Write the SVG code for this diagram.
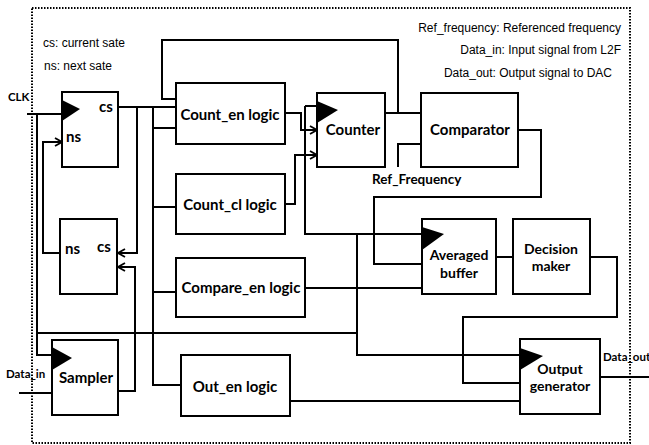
<svg xmlns="http://www.w3.org/2000/svg" width="649" height="445" viewBox="0 0 649 445">
<defs>
<style>
.box{fill:#fff;stroke:#000;stroke-width:2}
.w{fill:none;stroke:#000;stroke-width:2}
.ck{fill:#000;stroke:none}
.lbl{font-family:Lato,"Liberation Sans",sans-serif;font-weight:bold;font-size:15px;text-anchor:middle;fill:#000}
.lbl2{font-size:14px}
.pin{font-family:Lato,"Liberation Sans",sans-serif;font-weight:bold;font-size:15px;fill:#000}
.sig{font-family:Lato,"Liberation Sans",sans-serif;font-weight:bold;font-size:11.5px;fill:#000}
.note{font-family:"Liberation Sans",Arial,sans-serif;font-size:12px;fill:#000}
</style>
<marker id="ar" viewBox="0 0 10 10" refX="9" refY="5" markerWidth="10" markerHeight="10" markerUnits="userSpaceOnUse" orient="auto">
<path d="M2,1 L9,5 L2,9" fill="none" stroke="#000" stroke-width="1.8"/>
</marker>
</defs>
<rect x="0" y="0" width="649" height="445" fill="#fff"/>
<rect id="border" x="32" y="8" width="598" height="435" fill="none" stroke="#000" stroke-width="2" stroke-dasharray="1.5 1.5"/>

<g id="notes">
<text class="note" x="43" y="47">cs: current sate</text>
<text class="note" x="44" y="70">ns: next sate</text>
<text class="note" x="621" y="32" text-anchor="end">Ref_frequency: Referenced frequency</text>
<text class="note" x="621" y="54" text-anchor="end">Data_in: Input signal from L2F</text>
<text class="note" x="612" y="77" text-anchor="end">Data_out: Output signal to DAC</text>
</g>

<g id="ff1">
<rect class="box" x="62" y="92" width="56" height="75"/>
<polygon class="ck" points="62,100 80,109 62,121"/>
<text class="pin" x="99" y="112">cs</text>
<text class="pin" x="66" y="142">ns</text>
</g>
<g id="ff2">
<rect class="box" x="60" y="219" width="57" height="75"/>
<text class="pin" x="65" y="254">ns</text>
<text class="pin" x="97" y="252">cs</text>
</g>
<g id="sampler">
<rect class="box" x="52" y="340" width="66" height="75"/>
<polygon class="ck" points="52,347 72,358 52,370"/>
<text class="lbl" x="86" y="383">Sampler</text>
</g>
<g id="count_en">
<rect class="box" x="176" y="83" width="109" height="61"/>
<text class="lbl" x="230" y="120">Count_en logic</text>
</g>
<g id="count_cl">
<rect class="box" x="176" y="174" width="109" height="60"/>
<text class="lbl" x="230" y="210">Count_cl logic</text>
</g>
<g id="compare_en">
<rect class="box" x="176" y="258" width="129" height="59"/>
<text class="lbl" x="241" y="293">Compare_en logic</text>
</g>
<g id="out_en">
<rect class="box" x="181" y="355" width="109" height="61"/>
<text class="lbl" x="235" y="392">Out_en logic</text>
</g>
<g id="counter">
<rect class="box" x="317" y="93" width="68" height="74"/>
<polygon class="ck" points="317,101 338,110 317,123"/>
<text class="lbl" x="353" y="135">Counter</text>
</g>
<g id="comparator">
<rect class="box" x="421" y="93" width="97" height="74"/>
<text class="lbl" x="470" y="135">Comparator</text>
</g>
<g id="avg_buffer">
<rect class="box" x="422" y="219" width="74" height="75"/>
<polygon class="ck" points="422,227 444,234 422,250"/>
<text class="lbl lbl2" x="459" y="260">Averaged</text>
<text class="lbl lbl2" x="459" y="278">buffer</text>
</g>
<g id="decision">
<rect class="box" x="513" y="219" width="77" height="75"/>
<text class="lbl lbl2" x="551" y="254">Decision</text>
<text class="lbl lbl2" x="551" y="271">maker</text>
</g>
<g id="outgen">
<rect class="box" x="520" y="339" width="80" height="75"/>
<polygon class="ck" points="520,348 543,356 520,370"/>
<text class="lbl lbl2" x="560" y="374">Output</text>
<text class="lbl lbl2" x="560" y="391">generator</text>
</g>

<g id="signals">
<text class="sig" x="8" y="101">CLK</text>
<text class="sig" x="6" y="378">Data_in</text>
<text class="sig" x="603" y="361">Data_out</text>
<text class="sig" x="372" y="184" style="font-size:13.5px">Ref_Frequency</text>
</g>

<g id="connectors">
<path class="w" d="M27,114 H62 M37,114 V355 H52 M37,333 H357"/>
<path class="w" d="M305,106 H317 M305,106 V234 H422 M357,234 V355 H520"/>
<path class="w" d="M118,107 H176 M153,107 V385 H181 M153,128 H176 M153,207 H176 M153,292 H176"/>
<path class="w" d="M137,107 V253 H118" marker-end="url(#ar)"/>
<path class="w" d="M60,253 H43 V142 H62" marker-end="url(#ar)"/>
<path class="w" d="M19,393 H52"/>
<path class="w" d="M118,391 H135 V267 H118" marker-end="url(#ar)"/>
<path class="w" d="M285,113 H301 V130 H317" marker-end="url(#ar)"/>
<path class="w" d="M285,204 H295 V155 H317" marker-end="url(#ar)"/>
<path class="w" d="M385,113 H421 M398,113 V40 H162 V99 H176"/>
<path class="w" d="M398,167 V144 H421"/>
<path class="w" d="M518,130 H541 V197 H374 V264 H422"/>
<path class="w" d="M305,288 H422"/>
<path class="w" d="M496,257 H513"/>
<path class="w" d="M590,257 H617 V317 H463 V383 H520"/>
<path class="w" d="M290,401 H520"/>
<path class="w" d="M600,377 H649"/>
</g>
</svg>
